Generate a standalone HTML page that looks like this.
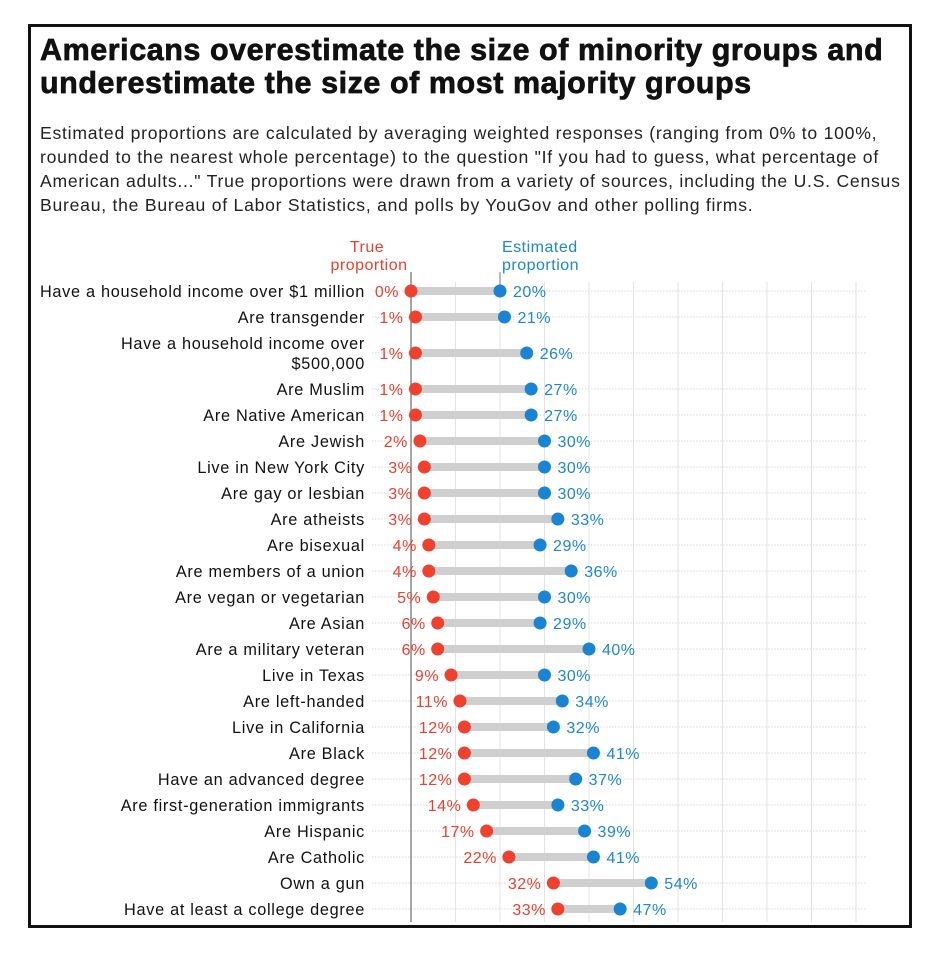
<!DOCTYPE html>
<html><head><meta charset="utf-8">
<style>
body{margin:0;background:#fff;width:952px;height:958px;overflow:hidden;font-family:"Liberation Sans",sans-serif;}
#frame{position:absolute;left:28px;top:24px;width:878px;height:898px;border:3px solid #111;}
h1{position:absolute;left:40px;top:34px;margin:0;font-size:30.5px;line-height:33px;font-weight:900;color:#111;letter-spacing:0.55px;-webkit-text-stroke:0.7px #111;width:900px;white-space:nowrap;}
#sub{position:absolute;left:40px;top:121px;width:900px;font-size:17.6px;line-height:24px;color:#222;margin:0;letter-spacing:0.75px;white-space:nowrap;}
svg{position:absolute;left:0;top:0;}
svg text{letter-spacing:0.5px;}
svg text.cat{letter-spacing:0.7px;}
</style></head><body>
<div id="frame"></div>
<h1>Americans overestimate the size of minority groups and<br>underestimate the size of most majority groups</h1>
<p id="sub">Estimated proportions are calculated by averaging weighted responses (ranging from 0% to 100%,<br>rounded to the nearest whole percentage) to the question "If you had to guess, what percentage of<br>American adults..." True proportions were drawn from a variety of sources, including the U.S. Census<br>Bureau, the Bureau of Labor Statistics, and polls by YouGov and other polling firms.</p>
<svg id="chart" width="952" height="958"></svg>
<script>
const categories=["Have a household income over $1 million","Are transgender","Have a household income over|$500,000","Are Muslim","Are Native American","Are Jewish","Live in New York City","Are gay or lesbian","Are atheists","Are bisexual","Are members of a union","Are vegan or vegetarian","Are Asian","Are a military veteran","Live in Texas","Are left-handed","Live in California","Are Black","Have an advanced degree","Are first-generation immigrants","Are Hispanic","Are Catholic","Own a gun","Have at least a college degree"];
const trueVals=[0,1,1,1,1,2,3,3,3,4,4,5,6,6,9,11,12,12,12,14,17,22,32,33];
const estVals=[20,21,26,27,27,30,30,30,33,29,36,30,29,40,30,34,32,41,37,33,39,41,54,47];
const gridTicks=[0,10,20,30,40,50,60,70,80,90,100];
const NS="http://www.w3.org/2000/svg";
const svg=document.getElementById('chart');
const x=v=>411+v*4.45;
function rowY(i){let y=291+i*26;if(i>=2)y+=10;if(i>=3)y+=10;return y;}
function mk(tag,attrs,parent){const e=document.createElementNS(NS,tag);for(const k in attrs)e.setAttribute(k,attrs[k]);(parent||svg).appendChild(e);return e;}
gridTicks.forEach(t=>{if(t===0)return;const l=mk('line',{x1:x(t),x2:x(t),y1:282,y2:922,stroke:'#e3e3e3','stroke-width':1});

});
categories.forEach((c,i)=>{const y=rowY(i);const l=mk('line',{x1:372,x2:866,y1:y,y2:y,stroke:'#d8d8d8','stroke-width':1,'stroke-dasharray':'1.5 1.5'});

});
const ax=mk('line',{x1:x(0),x2:x(0),y1:272,y2:922,stroke:'#777','stroke-width':1.3});


const tk=mk('line',{x1:x(estVals[0]),x2:x(estVals[0]),y1:272,y2:rowY(0),stroke:'#999','stroke-width':1.3});


function txt(s,a){const t=mk('text',a);t.textContent=s;return t;}
let h=txt('True',{x:367,y:252,'text-anchor':'middle','font-size':16,fill:'#e8412f'});

h=txt('proportion',{x:369,y:270,'text-anchor':'middle','font-size':16,fill:'#e8412f'});

h=txt('Estimated',{x:502,y:252,'font-size':16,fill:'#1f86d0'});

h=txt('proportion',{x:502,y:270,'font-size':16,fill:'#1f86d0'});

categories.forEach((c,i)=>{
 const y=rowY(i);const parts=c.split('|');
 parts.forEach((p,j)=>{const t=txt(p,{x:365,y:y+6+(parts.length>1?(j-0.5)*20:0),'text-anchor':'end','font-size':16.3,fill:'#111','class':'cat'});
 
 });
 const b=mk('line',{x1:x(trueVals[i]),x2:x(estVals[i]),y1:y,y2:y,stroke:'#cfcfcf','stroke-width':8});
 
 
 const d1=mk('circle',{cx:x(trueVals[i]),cy:y,r:6.5,fill:'#f0412e'});
 
 
 const d2=mk('circle',{cx:x(estVals[i]),cy:y,r:6.5,fill:'#1a84d2'});
 
 
 const l1=txt(trueVals[i]+'%',{x:x(trueVals[i])-12,y:y+6,'text-anchor':'end','font-size':16,fill:'#e8412f'});
 
 
 const l2=txt(estVals[i]+'%',{x:x(estVals[i])+13,y:y+6,'font-size':16,fill:'#1f86d0'});
 
 
});
</script>
</body></html>
